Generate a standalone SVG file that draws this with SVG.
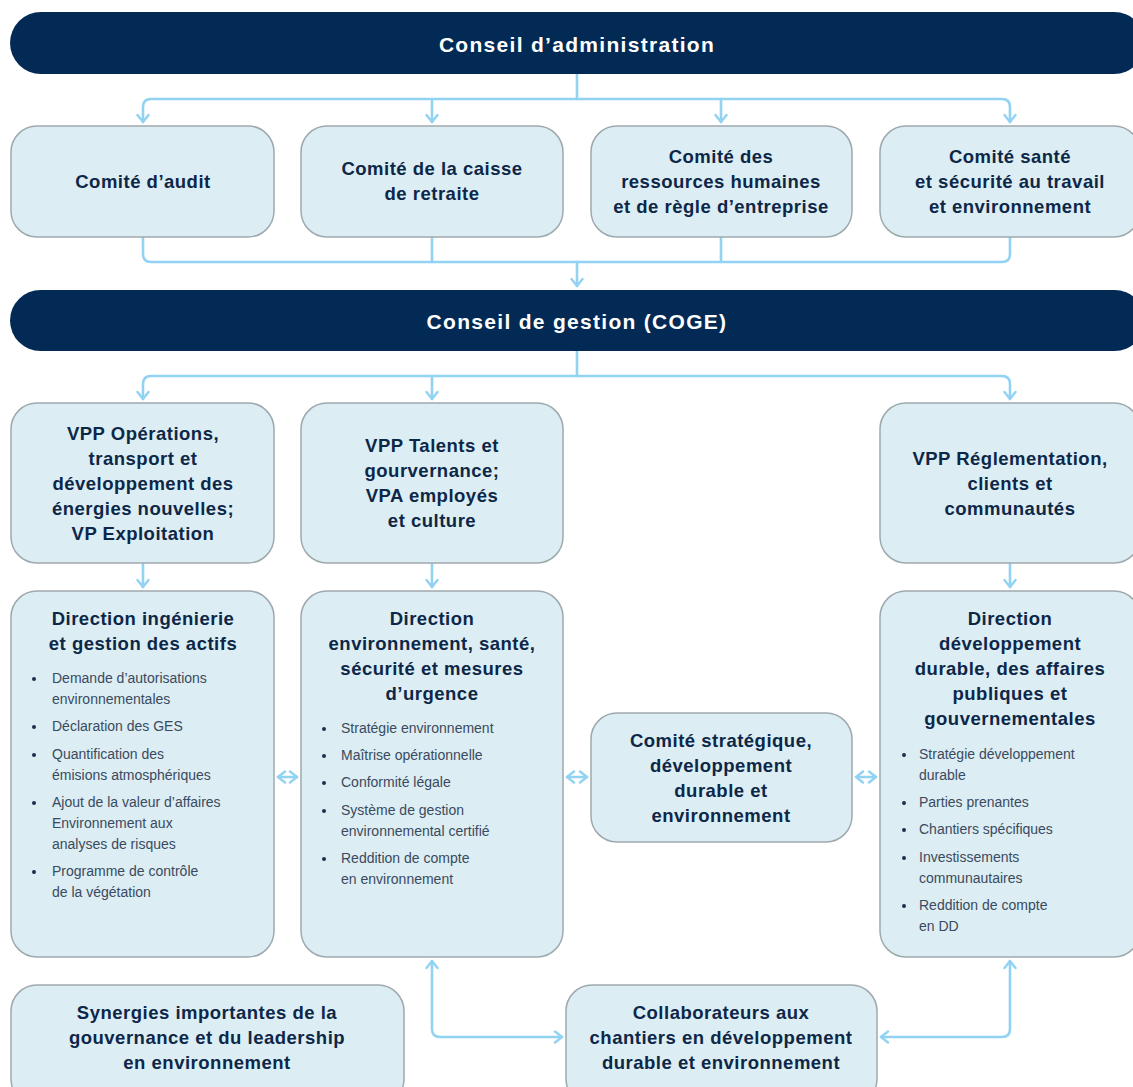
<svg xmlns="http://www.w3.org/2000/svg" width="1133" height="1087" viewBox="0 0 1133 1087">
<defs>
<style>
.bar{fill:#022a54}
.box{fill:#dcedf3;stroke:#9ea9ae;stroke-width:1.5}
.bt{font-family:"Liberation Sans",Arial,sans-serif;font-weight:bold;font-size:21px;fill:#ffffff;text-anchor:middle;letter-spacing:1.3px}
.t{font-family:"Liberation Sans",Arial,sans-serif;font-weight:bold;font-size:18.5px;fill:#0d2748;text-anchor:middle;letter-spacing:0.5px}
.b{font-family:"Liberation Sans",Arial,sans-serif;font-size:14px;fill:#3a4a60}
.dot{fill:#1d2f4d}
.c{fill:none;stroke:#92d2f2;stroke-width:2.6;stroke-linecap:round;stroke-linejoin:round}
</style>
<marker id="ar" viewBox="0 0 12 14" refX="10" refY="7" markerWidth="12" markerHeight="14" markerUnits="userSpaceOnUse" orient="auto-start-reverse">
<path d="M3,1.5 L10,7 L3,12.5" fill="none" stroke="#92d2f2" stroke-width="2.4" stroke-linecap="round" stroke-linejoin="round"/>
</marker>
</defs>
<rect width="1133" height="1087" fill="#ffffff"/>

<g id="connectors">
<path class="c" d="M577,74 V99"/>
<path class="c" d="M143,122 V107 Q143,99 151,99 H1002 Q1010,99 1010,107 V122" marker-start="url(#ar)" marker-end="url(#ar)"/>
<path class="c" d="M432,99 V122" marker-end="url(#ar)"/>
<path class="c" d="M721,99 V122" marker-end="url(#ar)"/>
<path class="c" d="M143,237 V254 Q143,262 151,262 H1002 Q1010,262 1010,254 V237"/>
<path class="c" d="M432,237 V262"/>
<path class="c" d="M721,237 V262"/>
<path class="c" d="M577,262 V286" marker-end="url(#ar)"/>
<path class="c" d="M577,351 V376"/>
<path class="c" d="M143,399 V384 Q143,376 151,376 H1002 Q1010,376 1010,384 V399" marker-start="url(#ar)" marker-end="url(#ar)"/>
<path class="c" d="M432,376 V399" marker-end="url(#ar)"/>
<path class="c" d="M143,563 V587" marker-end="url(#ar)"/>
<path class="c" d="M432,563 V587" marker-end="url(#ar)"/>
<path class="c" d="M1010,563 V587" marker-end="url(#ar)"/>
<path class="c" d="M278,777 H297" marker-start="url(#ar)" marker-end="url(#ar)"/>
<path class="c" d="M567,777 H587" marker-start="url(#ar)" marker-end="url(#ar)"/>
<path class="c" d="M856,777 H876" marker-start="url(#ar)" marker-end="url(#ar)"/>
<path class="c" d="M432,961 V1029 Q432,1037 440,1037 H562" marker-start="url(#ar)" marker-end="url(#ar)"/>
<path class="c" d="M1010,961 V1029 Q1010,1037 1002,1037 H881" marker-start="url(#ar)" marker-end="url(#ar)"/>
</g>

<g id="conseil-admin">
<rect class="bar" x="10" y="12" width="1135" height="62" rx="31"/>
<text class="bt" x="577" y="52">Conseil d’administration</text>
</g>

<g id="comite-audit">
<rect class="box" x="11" y="126" width="263" height="111" rx="26"/>
<text class="t" x="143" y="188">Comité d’audit</text>
</g>
<g id="comite-retraite">
<rect class="box" x="301" y="126" width="262" height="111" rx="26"/>
<text class="t" x="432" y="175">Comité de la caisse</text>
<text class="t" x="432" y="200">de retraite</text>
</g>
<g id="comite-rh">
<rect class="box" x="591" y="126" width="261" height="111" rx="26"/>
<text class="t" x="721" y="163">Comité des</text>
<text class="t" x="721" y="188">ressources humaines</text>
<text class="t" x="721" y="213">et de règle d’entreprise</text>
</g>
<g id="comite-sante">
<rect class="box" x="880" y="126" width="260" height="111" rx="26"/>
<text class="t" x="1010" y="163">Comité santé</text>
<text class="t" x="1010" y="188">et sécurité au travail</text>
<text class="t" x="1010" y="213">et environnement</text>
</g>

<g id="coge">
<rect class="bar" x="10" y="290" width="1135" height="61" rx="30.5"/>
<text class="bt" x="577" y="329">Conseil de gestion (COGE)</text>
</g>

<g id="vpp-operations">
<rect class="box" x="11" y="403" width="263" height="160" rx="26"/>
<text class="t" x="143" y="440">VPP Opérations,</text>
<text class="t" x="143" y="465">transport et</text>
<text class="t" x="143" y="490">développement des</text>
<text class="t" x="143" y="515">énergies nouvelles;</text>
<text class="t" x="143" y="540">VP Exploitation</text>
</g>
<g id="vpp-talents">
<rect class="box" x="301" y="403" width="262" height="160" rx="26"/>
<text class="t" x="432" y="452">VPP Talents et</text>
<text class="t" x="432" y="477">gourvernance;</text>
<text class="t" x="432" y="502">VPA employés</text>
<text class="t" x="432" y="527">et culture</text>
</g>
<g id="vpp-reglementation">
<rect class="box" x="880" y="403" width="260" height="160" rx="26"/>
<text class="t" x="1010" y="465">VPP Réglementation,</text>
<text class="t" x="1010" y="490">clients et</text>
<text class="t" x="1010" y="515">communautés</text>
</g>

<g id="dir-ingenierie">
<rect class="box" x="11" y="591" width="263" height="366" rx="26"/>
<text class="t" x="143" y="625">Direction ingénierie</text>
<text class="t" x="143" y="650">et gestion des actifs</text>
<g class="b">
<circle class="dot" cx="34" cy="679" r="2"/><text x="52" y="683">Demande d’autorisations</text><text x="52" y="704">environnementales</text>
<circle class="dot" cx="34" cy="727" r="2"/><text x="52" y="731">Déclaration des GES</text>
<circle class="dot" cx="34" cy="755" r="2"/><text x="52" y="759">Quantification des</text><text x="52" y="780">émisions atmosphériques</text>
<circle class="dot" cx="34" cy="803" r="2"/><text x="52" y="807">Ajout de la valeur d’affaires</text><text x="52" y="828">Environnement aux</text><text x="52" y="849">analyses de risques</text>
<circle class="dot" cx="34" cy="872" r="2"/><text x="52" y="876">Programme de contrôle</text><text x="52" y="897">de la végétation</text>
</g>
</g>

<g id="dir-environnement">
<rect class="box" x="301" y="591" width="262" height="366" rx="26"/>
<text class="t" x="432" y="625">Direction</text>
<text class="t" x="432" y="650">environnement, santé,</text>
<text class="t" x="432" y="675">sécurité et mesures</text>
<text class="t" x="432" y="700">d’urgence</text>
<g class="b">
<circle class="dot" cx="324" cy="729" r="2"/><text x="341" y="733">Stratégie environnement</text>
<circle class="dot" cx="324" cy="756" r="2"/><text x="341" y="760">Maîtrise opérationnelle</text>
<circle class="dot" cx="324" cy="783" r="2"/><text x="341" y="787">Conformité légale</text>
<circle class="dot" cx="324" cy="811" r="2"/><text x="341" y="815">Système de gestion</text><text x="341" y="836">environnemental certifié</text>
<circle class="dot" cx="324" cy="859" r="2"/><text x="341" y="863">Reddition de compte</text><text x="341" y="884">en environnement</text>
</g>
</g>

<g id="comite-strategique">
<rect class="box" x="591" y="713" width="261" height="129" rx="26"/>
<text class="t" x="721" y="747">Comité stratégique,</text>
<text class="t" x="721" y="772">développement</text>
<text class="t" x="721" y="797">durable et</text>
<text class="t" x="721" y="822">environnement</text>
</g>

<g id="dir-developpement">
<rect class="box" x="880" y="591" width="260" height="366" rx="26"/>
<text class="t" x="1010" y="625">Direction</text>
<text class="t" x="1010" y="650">développement</text>
<text class="t" x="1010" y="675">durable, des affaires</text>
<text class="t" x="1010" y="700">publiques et</text>
<text class="t" x="1010" y="725">gouvernementales</text>
<g class="b">
<circle class="dot" cx="904" cy="755" r="2"/><text x="919" y="759">Stratégie développement</text><text x="919" y="780">durable</text>
<circle class="dot" cx="904" cy="803" r="2"/><text x="919" y="807">Parties prenantes</text>
<circle class="dot" cx="904" cy="830" r="2"/><text x="919" y="834">Chantiers spécifiques</text>
<circle class="dot" cx="904" cy="858" r="2"/><text x="919" y="862">Investissements</text><text x="919" y="883">communautaires</text>
<circle class="dot" cx="904" cy="906" r="2"/><text x="919" y="910">Reddition de compte</text><text x="919" y="931">en DD</text>
</g>
</g>

<g id="synergies">
<rect class="box" x="11" y="985" width="393" height="120" rx="26"/>
<text class="t" x="207" y="1019">Synergies importantes de la</text>
<text class="t" x="207" y="1044">gouvernance et du leadership</text>
<text class="t" x="207" y="1069">en environnement</text>
</g>

<g id="collaborateurs">
<rect class="box" x="566" y="985" width="311" height="120" rx="26"/>
<text class="t" x="721" y="1019">Collaborateurs aux</text>
<text class="t" x="721" y="1044">chantiers en développement</text>
<text class="t" x="721" y="1069">durable et environnement</text>
</g>
</svg>
